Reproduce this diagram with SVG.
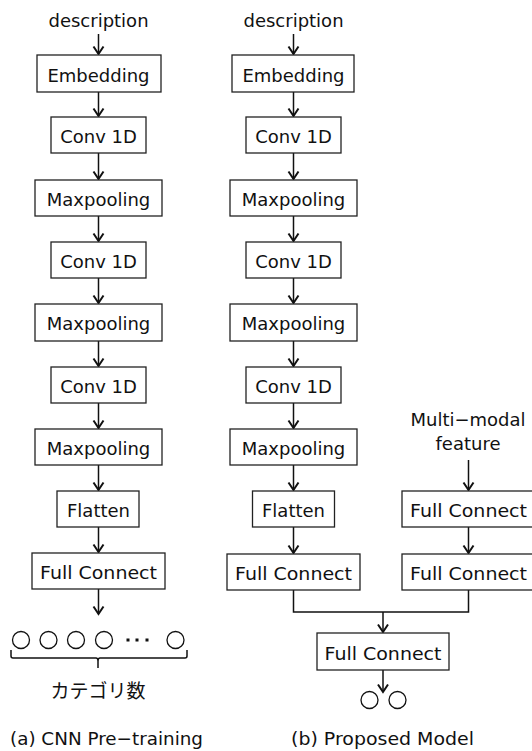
<svg xmlns="http://www.w3.org/2000/svg" width="532" height="751" viewBox="0 0 532 751">
<style>
.box{fill:#fff;stroke:#222;stroke-width:1.3}
.lbl{font-family:"DejaVu Sans","Noto Sans CJK JP",sans-serif;font-size:18px;fill:#111;text-anchor:middle}
.fc{font-family:"DejaVu Sans","Noto Sans CJK JP",sans-serif;font-size:18px;fill:#111;text-anchor:middle}
.ln{fill:none;stroke:#111;stroke-width:1.5}
.ar{fill:none;stroke:#111;stroke-width:1.5;marker-end:url(#ah)}
.cir{fill:#fff;stroke:#111;stroke-width:1.3}
</style>
<defs>
<marker id="ah" markerUnits="userSpaceOnUse" markerWidth="12" markerHeight="12" refX="0" refY="0" orient="auto" overflow="visible">
<path d="M-7.5,-5 L0,0 L-7.5,5" fill="none" stroke="#111" stroke-width="2"/>
</marker>
</defs>

<g id="connectors">
<!-- left column -->
<line class="ar" x1="98.5" y1="34" x2="98.5" y2="54"/>
<line class="ar" x1="98.5" y1="92" x2="98.5" y2="116"/>
<line class="ar" x1="98.5" y1="153" x2="98.5" y2="179"/>
<line class="ar" x1="98.5" y1="216" x2="98.5" y2="241"/>
<line class="ar" x1="98.5" y1="278" x2="98.5" y2="303"/>
<line class="ar" x1="98.5" y1="341" x2="98.5" y2="366"/>
<line class="ar" x1="98.5" y1="403" x2="98.5" y2="428"/>
<line class="ar" x1="98.5" y1="465" x2="98.5" y2="490"/>
<line class="ar" x1="98.5" y1="527" x2="98.5" y2="552"/>
<line class="ar" x1="98.5" y1="589" x2="98.5" y2="614"/>
<!-- right column -->
<line class="ar" x1="293.5" y1="34" x2="293.5" y2="54"/>
<line class="ar" x1="293.5" y1="92" x2="293.5" y2="116"/>
<line class="ar" x1="293.5" y1="153" x2="293.5" y2="179"/>
<line class="ar" x1="293.5" y1="216" x2="293.5" y2="241"/>
<line class="ar" x1="293.5" y1="278" x2="293.5" y2="303"/>
<line class="ar" x1="293.5" y1="341" x2="293.5" y2="366"/>
<line class="ar" x1="293.5" y1="403" x2="293.5" y2="428"/>
<line class="ar" x1="293.5" y1="465" x2="293.5" y2="490"/>
<line class="ar" x1="293.5" y1="527" x2="293.5" y2="553"/>
<!-- multimodal branch -->
<line class="ar" x1="468.5" y1="460" x2="468.5" y2="490"/>
<line class="ar" x1="468.5" y1="527" x2="468.5" y2="553"/>
<!-- merge -->
<path class="ln" d="M293.5,590 V612 H468.5 V590"/>
<line class="ar" x1="383" y1="612" x2="383" y2="632"/>
<line class="ar" x1="383" y1="670" x2="383" y2="692"/>
</g>

<g id="desc-a"><text class="lbl" x="98.5" y="27">description</text></g>
<g id="emb-a"><rect class="box" x="37" y="55" width="124" height="37"/><text class="lbl" x="98.5" y="82">Embedding</text></g>
<g id="conv1-a"><rect class="box" x="51" y="117" width="95" height="36"/><text class="lbl" x="98.5" y="143">Conv 1D</text></g>
<g id="max1-a"><rect class="box" x="35" y="180" width="127" height="36"/><text class="lbl" x="98.5" y="206">Maxpooling</text></g>
<g id="conv2-a"><rect class="box" x="51" y="242" width="95" height="36"/><text class="lbl" x="98.5" y="268">Conv 1D</text></g>
<g id="max2-a"><rect class="box" x="35" y="304" width="127" height="37"/><text class="lbl" x="98.5" y="330">Maxpooling</text></g>
<g id="conv3-a"><rect class="box" x="51" y="367" width="95" height="36"/><text class="lbl" x="98.5" y="393">Conv 1D</text></g>
<g id="max3-a"><rect class="box" x="35" y="429" width="127" height="36"/><text class="lbl" x="98.5" y="455">Maxpooling</text></g>
<g id="flat-a"><rect class="box" x="57" y="491" width="82" height="36"/><text class="lbl" x="98.5" y="517">Flatten</text></g>
<g id="fc-a"><rect class="box" x="32" y="553" width="133" height="36"/><text class="fc" x="98.5" y="579" textLength="117" lengthAdjust="spacingAndGlyphs">Full Connect</text></g>
<g id="out-a">
<circle class="cir" cx="21" cy="640" r="8.5"/>
<circle class="cir" cx="48.5" cy="640" r="8.5"/>
<circle class="cir" cx="76" cy="640" r="8.5"/>
<circle class="cir" cx="104" cy="640" r="8.5"/>
<rect x="126.5" y="638.5" width="3" height="3" fill="#111"/>
<rect x="135.5" y="638.5" width="3" height="3" fill="#111"/>
<rect x="145.5" y="638.5" width="3" height="3" fill="#111"/>
<circle class="cir" cx="175.5" cy="640" r="8.5"/>
<path class="ln" stroke-width="1.3" d="M11,650 V656 Q11,658 13,658 H96 Q98,658 98,661 V668 M98,661 Q98,658 100,658 H185 Q187,658 187,656 V650"/>
<text x="98" y="698" font-family="'Noto Sans CJK JP',sans-serif" font-size="19" fill="#111" text-anchor="middle">カテゴリ数</text>
</g>
<g id="cap-a"><text x="10" y="745" font-family="'DejaVu Sans','Noto Sans CJK JP',sans-serif" font-size="18" fill="#111" textLength="193" lengthAdjust="spacingAndGlyphs">(a) CNN Pre−training</text></g>

<g id="desc-b"><text class="lbl" x="293.5" y="27">description</text></g>
<g id="emb-b"><rect class="box" x="232" y="55" width="122" height="37"/><text class="lbl" x="293.5" y="82">Embedding</text></g>
<g id="conv1-b"><rect class="box" x="246" y="117" width="95" height="36"/><text class="lbl" x="293.5" y="143">Conv 1D</text></g>
<g id="max1-b"><rect class="box" x="230" y="180" width="127" height="36"/><text class="lbl" x="293.5" y="206">Maxpooling</text></g>
<g id="conv2-b"><rect class="box" x="246" y="242" width="95" height="36"/><text class="lbl" x="293.5" y="268">Conv 1D</text></g>
<g id="max2-b"><rect class="box" x="230" y="304" width="127" height="37"/><text class="lbl" x="293.5" y="330">Maxpooling</text></g>
<g id="conv3-b"><rect class="box" x="246" y="367" width="95" height="36"/><text class="lbl" x="293.5" y="393">Conv 1D</text></g>
<g id="max3-b"><rect class="box" x="230" y="429" width="127" height="36"/><text class="lbl" x="293.5" y="455">Maxpooling</text></g>
<g id="flat-b"><rect class="box" x="252.5" y="491" width="82" height="36"/><text class="lbl" x="293.5" y="517">Flatten</text></g>
<g id="fc-b1"><rect class="box" x="227" y="554" width="133" height="36"/><text class="fc" x="293.5" y="580" textLength="117" lengthAdjust="spacingAndGlyphs">Full Connect</text></g>
<g id="mm"><text class="lbl" x="468" y="426">Multi−modal</text><text class="lbl" x="468" y="450">feature</text></g>
<g id="fc-m1"><rect class="box" x="402" y="491" width="136" height="36"/><text class="fc" x="468.5" y="517" textLength="117" lengthAdjust="spacingAndGlyphs">Full Connect</text></g>
<g id="fc-m2"><rect class="box" x="402" y="554" width="136" height="36"/><text class="fc" x="468.5" y="580" textLength="117" lengthAdjust="spacingAndGlyphs">Full Connect</text></g>
<g id="fc-final"><rect class="box" x="317" y="633" width="132" height="37"/><text class="fc" x="383" y="660" textLength="117" lengthAdjust="spacingAndGlyphs">Full Connect</text></g>
<g id="out-b">
<circle class="cir" cx="369.5" cy="700" r="8.5"/>
<circle class="cir" cx="397.5" cy="700" r="8.5"/>
</g>
<g id="cap-b"><text x="382.5" y="745" font-family="'DejaVu Sans','Noto Sans CJK JP',sans-serif" font-size="18" fill="#111" text-anchor="middle" textLength="183" lengthAdjust="spacingAndGlyphs">(b) Proposed Model</text></g>
</svg>
